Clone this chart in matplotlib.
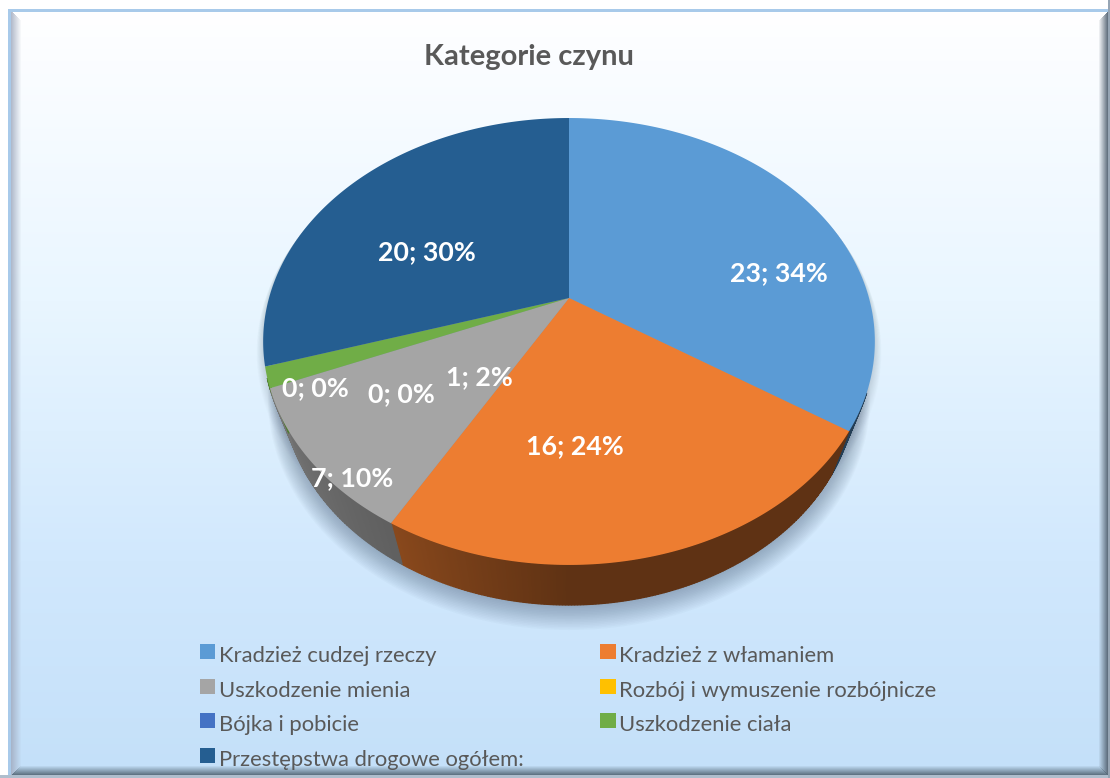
import numpy as np
import matplotlib
matplotlib.use('Agg')
import matplotlib.pyplot as plt
from matplotlib.patches import Rectangle
from matplotlib.legend_handler import HandlerPatch

plt.rcParams['font.family'] = ['Lato', 'DejaVu Sans']

# data
title = 'Kategorie czynu'
categories = ['Kradzież cudzej rzeczy', 'Kradzież z włamaniem', 'Uszkodzenie mienia',
              'Rozbój i wymuszenie rozbójnicze', 'Bójka i pobicie', 'Uszkodzenie ciała',
              'Przestępstwa drogowe ogółem:']
values = [23, 16, 7, 0, 0, 1, 20]
percents = [34, 24, 10, 0, 0, 2, 30]
colors = ['#5B9BD5', '#ED7D31', '#A5A5A5', '#FFC000', '#4472C4', '#70AD47', '#255E91']
label_pos = [(779, 273), (575, 446), (352, 478), (401, 394), (315, 388), (479, 377), (427, 252)]

W, H = 1110, 778
fig = plt.figure(figsize=(W / 100, H / 100), dpi=100)
ax = fig.add_axes([0, 0, 1, 1])
ax.axis('off')

# background gradient + bevel
yy, xx = np.mgrid[0:H, 0:W]
stops_y = [12, 60, 300, 560, 770]
stops_c = np.array([[255, 255, 255], [251, 253, 255], [233, 246, 255], [209, 232, 253], [196, 224, 249]])
bg = np.stack([np.interp(yy, stops_y, stops_c[:, i]) for i in range(3)], axis=2)

d_left = xx - 11.0
d_right = 1108.0 - xx
d_top = yy - 11.0
d_bot = 775.0 - yy
band = 10.0
nearest = np.minimum(np.minimum(d_left, d_right), np.minimum(d_top, d_bot))


def bevel(mask, dist, col, strength):
    a = np.clip(1 - dist / band, 0, 1) * strength * mask
    for i in range(3):
        bg[:, :, i] = bg[:, :, i] * (1 - a) + col[i] * a


bevel(d_left == nearest, d_left, (160, 170, 190), 0.8)
bevel(d_right == nearest, d_right, (85, 100, 115), 1.0)
bevel(d_bot == nearest, d_bot, (85, 105, 120), 1.0)
# thin outer line and white margin
line = (168, 202, 234)
bg[9:12, 8:] = line
bg[9:, 8:11] = line
bg[:9, :] = 255
bg[:, :8] = 255
bg[775:, :] = (175, 190, 205)
bg[:, 1108:] = (150, 165, 180)
ax.imshow(bg.astype(np.uint8), extent=(0, W, H, 0), interpolation='nearest', aspect='auto')

# perspective of the pie disc
cx = 569.0
top_y, top_a, top_b = 298.0, 300.0, 215.0
bot_y, bot_a, bot_b = 345.5, 281.0, 209.0
c = 0.1946


def project(t, y0, a, b, grow=0.0):
    r = np.radians(t)
    px, py = np.sin(r), np.cos(r)
    w = 1 + c * py
    return cx + (a + grow) * px / w, y0 - (b + grow) * py / w


# angles of the slice borders, clockwise from the top
total = sum(values)
edges = 360.0 * np.cumsum([0] + values) / total

# soft shadow
circle = np.linspace(0, 360, 361)
for k in range(16, 0, -1):
    sx, sy = project(circle, bot_y + k * 0.45, bot_a, bot_b, grow=k * 0.9)
    ax.fill(sx, sy, color=(0.22, 0.30, 0.40), alpha=0.028, lw=0)
    sx, sy = project(circle, top_y + k * 0.6, top_a, top_b, grow=k * 0.4)
    ax.fill(sx, sy, color=(0.22, 0.30, 0.40), alpha=0.012, lw=0)

# side wall, darker to the right, lighter to the left
for i, col in enumerate(colors):
    if values[i] == 0:
        continue
    base = np.array(matplotlib.colors.to_rgb(col))
    steps = np.arange(edges[i], edges[i + 1] + 0.5, 0.5)
    steps[-1] = edges[i + 1]
    for t0, t1 in zip(steps[:-1], steps[1:]):
        if t0 < 114 or t1 > 250:
            continue
        shade = np.interp((t0 + t1) / 2, [180, 210, 250], [0.40, 0.58, 0.72])
        ts = np.array([t0, t1])
        x1, y1 = project(ts, top_y, top_a, top_b)
        x2, y2 = project(ts[::-1], bot_y, bot_a, bot_b)
        q = base * shade
        ax.fill(np.r_[x1, x2], np.r_[y1, y2], color=q, ec=q, lw=0.9)

# top face
for i, col in enumerate(colors):
    if values[i] == 0:
        continue
    ts = np.linspace(edges[i], edges[i + 1], 200)
    x, y = project(ts, top_y, top_a, top_b)
    ax.fill(np.r_[cx, x], np.r_[top_y, y], color=col, lw=0)

# data labels
for (lx, ly), v, p in zip(label_pos, values, percents):
    ax.text(lx, ly, f'{v}; {p}%', color='white', fontsize=19.3, fontweight='bold',
            ha='center', va='center')

ax.text(529, 57, title, color='#595959', fontsize=21, fontweight='bold', ha='center', va='center')

# legend, filled column by column so reorder to keep the rows
handles = [Rectangle((0, 0), 1, 1, color=col, lw=0) for col in colors]
order = [0, 2, 4, 6, 1, 3, 5]
ax.legend([handles[i] for i in order], [categories[i] for i in order], ncol=2,
          loc='upper left', bbox_to_anchor=(200, 644), bbox_transform=ax.transData,
          frameon=False, fontsize=15.8, labelcolor='#595959', handlelength=0.7, handleheight=1.14,
          handler_map={Rectangle: HandlerPatch(ypad=0.3)},
          handletextpad=0.16, columnspacing=3.49, labelspacing=0.56, borderpad=0, borderaxespad=0)

ax.set_xlim(0, W)
ax.set_ylim(H, 0)
fig.savefig('out.png', dpi=100)
